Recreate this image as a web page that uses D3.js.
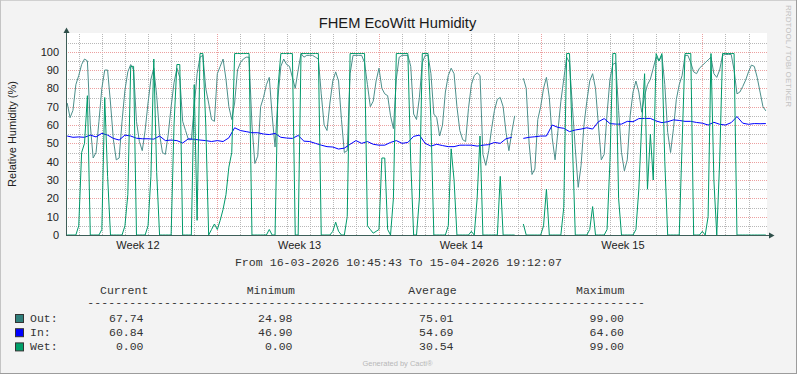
<!DOCTYPE html>
<html><head><meta charset="utf-8">
<script src="https://cdn.jsdelivr.net/npm/d3@7"></script>
<style>html,body{margin:0;padding:0;background:#f3f3f3;} svg{display:block;}</style>
</head><body>
<svg id="c" width="797" height="374"></svg>
<script>
// ---------- data ----------
const title = "FHEM EcoWitt Humidity";
const yLabel = "Relative Humidity (%)";
const graphStart = "2026-03-16T10:45:43Z";
const graphEnd = "2026-04-15T19:12:07Z";
const seriesStart = "2026-03-16T12:00:00Z";
const outWetStepHours = 3;
const inStepHours = 6;
const yTicks = [0,10,20,30,40,50,60,70,80,90,100];
const weekLabelTimes = ["2026-03-19T13:00:00Z","2026-03-26T13:00:00Z","2026-04-02T13:00:00Z","2026-04-09T13:00:00Z"];

const outValues = [
72,64,68,82,87,93,96,95,60,42,
45,62,80,90,90,72,52,41,42,62,
79,89,93,90,62,51,46,57,72,85,
91,76,55,45,44,55,70,83,91,86,
62,57,52,52,70,88,97,98,80,72,
63,62,88,92,96,85,70,63,72,90,
94,96,97,97,60,39,43,70,75,82,
86,65,48,75,92,96,93,92,86,80,
90,99,97,98,98,98,97,96,77,60,
57,72,84,89,84,63,45,46,88,98,
98,98,98,94,82,70,73,84,91,80,
77,76,65,58,85,97,98,98,98,92,
66,63,75,94,98,98,88,66,64,54,
60,78,87,91,88,70,57,52,51,69,
82,87,88.5,87,44,38,46,58,68,74,
75,70,56,46,56,65,null,null,85.5,80,
50,33,36,63,70,80,86,75,53,41,
57,73,85,97,94,70,47,26,38,60,
73,84,88,80,60,41,44,66,85,93,
94,68,45,35,41,65,78,84,78,67,
76,82,85,91,97,95,98,82,56,45,
58,74,82,87,98,98,94,89,88,91,
92.5,94,95.5,97,88,86,90,98,98.5,98.5,
98.5,90,77,78,81,84.5,89,92.7,92,86,
78,70,67.7];

const wetValues = [
0,0,0,0,5,45,50,76,0,0,
0,0,3,75,32,0,0,0,0,0,
5,22,92,92,0,0,0,0,5,32,
96,34,0,0,0,0,0,60,93,93,
0,0,0,0,82,8,99,99,60,0,
3,6,3,8,14,22,37,45,99,99,
99,99,99,99,0,0,0,0,0,0,
3,0,0,80,99,99,99,99,99,0,
0,99,99,99,99,99,99,99,0,0,
0,0,2,7,2,0,0,10,99,99,
99,99,99,99,5,3,1,2,3,42,
42,3,0,20,99,99,99,99,99,40,
0,0,20,99,99,99,62,0,0,0,
0,0,5,47,30,0,0,0,0,0,
2,0,20,54,0,0,0,0,0,0,
32,0,0,0,0,0,null,null,6,0,
0,0,0,0,0,5,25,0,0,0,
0,0,15,99,99,50,0,0,0,0,
0,3,15.5,0,0,0,0,3,40,99,
99,20,0,0,0,0,0,3,25,60,
88,25,55,30,99,95,99,40,0,0,
0,0,0,50,99,99,99,0,0,0,
2,0,10,99,30,0,40,99,99,99,
99,99,0,0,0,0,0,0,0,0,
0,0,0];

const inValues = [
54,53.3,53.5,53.3,54.5,53.5,55.5,54.5,52.7,51.8,
54.5,54,52.8,52.5,52.5,52.3,54,51.5,51.8,51.5,
50.2,52.5,52.2,51.8,51.5,51,51.5,51,53,58.5,
57,56.4,55.8,55.8,55.1,54.8,55.4,53.3,52.9,52.7,
54.3,51.2,51,50,49,48.2,48,46.9,47.4,49.5,
51.5,50,51,49.5,49,49,50.5,51.5,50,50.5,
53.8,54.5,50,48.5,49.5,48.8,48.2,48.2,49,49,
49,48.5,49,49.3,50.5,50,52.5,53.3,null,52.7,
53.3,53.6,54,54,60,58.7,58.2,56.4,57.3,57.8,
58.5,57.8,61.8,63.5,60.8,60.5,60.5,62,61.8,63.5,
63.6,63.6,62.2,61.3,61.8,62.8,62.5,62,62,61.4,
61,60,61.5,60.4,60,61.3,64.6,61,60.4,60.8,
60.7,60.8];

const seriesNames = ["Out:", "In:", "Wet:"];
const statHeaders = ["Current", "Minimum", "Average", "Maximum"];
const statValues = [
  ["67.74", "24.98", "75.01", "99.00"],
  ["60.84", "46.90", "54.69", "64.60"],
  ["0.00", "0.00", "30.54", "99.00"]
];
const periodText = "From 16-03-2026 10:45:43 To 15-04-2026 19:12:07";
const footerText = "Generated by Cacti®";
const watermark = "RRDTOOL / TOBI OETIKER";

// ---------- styles ----------
const colOut = "#4c8f8b", colIn = "#0000ff", colWet = "#00996a";
const boxColors = ["#2f7f7b", "#0000ff", "#00a06a"];
const sans = "'Liberation Sans', Arial, sans-serif";
const mono = "'Liberation Mono', 'Courier New', monospace";
const minorCol = "#b8b8b8", majorCol = "#eca0a0";

const svg = d3.select("#c");
const W = 797, H = 374;
const L = 66, R = 767, T = 34, B = 235;

// dotted-line patterns (1px on, 1px off)
const defs = svg.append("defs");
[["hMin", minorCol, true], ["hMaj", majorCol, true], ["vMin", minorCol, false], ["vMaj", majorCol, false]].forEach(([id, col, horiz]) => {
  const p = defs.append("pattern").attr("id", id).attr("patternUnits","userSpaceOnUse")
    .attr("x",0).attr("y",0).attr("width",2).attr("height",2);
  p.append("rect").attr("x",0).attr("y",0).attr("width",horiz ? 1 : 2).attr("height",horiz ? 2 : 1).attr("fill",col);
});

svg.append("rect").attr("x",0).attr("y",0).attr("width",W).attr("height",H).attr("fill","#f3f3f3");
// frame
svg.append("line").attr("x1",0).attr("x2",W).attr("y1",0.5).attr("y2",0.5).attr("stroke","#d0d0d0");
svg.append("line").attr("x1",0.5).attr("x2",0.5).attr("y1",0).attr("y2",H).attr("stroke","#c4c4c4");
svg.append("line").attr("x1",W-0.5).attr("x2",W-0.5).attr("y1",0).attr("y2",H).attr("stroke","#9c9c9c");
svg.append("line").attr("x1",0).attr("x2",W).attr("y1",H-0.5).attr("y2",H-0.5).attr("stroke","#9c9c9c");

const x = d3.scaleUtc().domain([new Date(graphStart), new Date(graphEnd)]).range([L, R]);
const y = d3.scaleLinear().domain([0, 100]).range([B, 51.7]);

svg.append("rect").attr("x",L+1).attr("y",T-1).attr("width",R-L-1).attr("height",B-T+1).attr("fill","#ffffff");

const grid = svg.append("g").attr("shape-rendering","crispEdges");
const hLine = (v, pat) => grid.append("rect").attr("x",L+1).attr("y",Math.round(y(v))).attr("width",R-L-1).attr("height",1).attr("fill",`url(#${pat})`);
const vLine = (d, pat) => grid.append("rect").attr("x",Math.round(x(d))).attr("y",T).attr("width",1).attr("height",B-T).attr("fill",`url(#${pat})`);
const dStart = new Date(graphStart), dEnd = new Date(graphEnd);
d3.range(5, 106, 10).forEach(v => hLine(v, "hMin"));
d3.utcDay.range(dStart, dEnd).filter(d => d.getUTCDay() !== 1).forEach(d => vLine(d, "vMin"));
yTicks.filter(v => v > 0).forEach(v => hLine(v, "hMaj"));
d3.utcMonday.range(dStart, dEnd).forEach(d => vLine(d, "vMaj"));

// series
const s0 = new Date(seriesStart).getTime();
const toPts = (vals, stepH) => vals.map((v, i) => ({t: new Date(s0 + i * stepH * 3600e3), v}));
const line = d3.line().defined(d => d.v != null).x(d => x(d.t)).y(d => y(d.v));

svg.append("clipPath").attr("id","clip").append("rect").attr("x",L).attr("y",T-3).attr("width",R-L).attr("height",B-T+3);
const plot = svg.append("g").attr("clip-path","url(#clip)");
plot.append("path").datum(toPts(outValues, outWetStepHours)).attr("d", line)
  .attr("fill","none").attr("stroke",colOut).attr("stroke-width",1);
plot.append("path").datum(toPts(inValues, inStepHours)).attr("d", line)
  .attr("fill","none").attr("stroke",colIn).attr("stroke-width",1);
plot.append("path").datum(toPts(wetValues, outWetStepHours)).attr("d", line)
  .attr("fill","none").attr("stroke",colWet).attr("stroke-width",1);

// axes lines + arrows
const axCol = "#3d5e58";
svg.append("line").attr("x1",L+0.5).attr("x2",L+0.5).attr("y1",B+1).attr("y2",30).attr("stroke",axCol);
svg.append("line").attr("x1",L).attr("x2",771).attr("y1",B+0.5).attr("y2",B+0.5).attr("stroke",axCol);
svg.append("path").attr("d",`M${L+0.5},27.5 L${L+3.5},33 L${L-2.5},33 Z`).attr("fill","#2f4f4a");
svg.append("path").attr("d",`M774.5,${B+0.5} L769,${B-2.5} L769,${B+3.5} Z`).attr("fill","#2f4f4a");

// y axis labels
const yAxis = d3.axisLeft(y).tickValues(yTicks).tickSize(0).tickPadding(7).tickFormat(d3.format("d"));
const gy = svg.append("g").attr("transform",`translate(${L},0)`).call(yAxis);
gy.select(".domain").remove();
gy.selectAll("text").attr("font-family",sans).attr("font-size","11px").attr("fill","#222");

// x axis labels
const xAxis = d3.axisBottom(x).tickValues(weekLabelTimes.map(s => new Date(s))).tickSize(0).tickPadding(6.2)
  .tickFormat(d3.utcFormat("Week %V"));
const gx = svg.append("g").attr("transform",`translate(0,${B})`).call(xAxis);
gx.select(".domain").remove();
gx.selectAll("text").attr("font-family",sans).attr("font-size","11px").attr("fill","#222");

// title
svg.append("text").attr("x",397.5).attr("y",28).attr("text-anchor","middle")
  .attr("font-family",sans).attr("font-size","14.7px").attr("fill","#1a1a1a").text(title);
// y label
svg.append("text").attr("transform","translate(15.5,134) rotate(-90)").attr("text-anchor","middle")
  .attr("font-family",sans).attr("font-size","11px").attr("fill","#222").text(yLabel);
// watermark
svg.append("text").attr("transform","translate(785.5,5) rotate(90)").attr("text-anchor","start")
  .attr("font-family",sans).attr("font-size","8px").attr("fill","#c2c2c2")
  .attr("textLength",102).attr("lengthAdjust","spacing").text(watermark);

// period
svg.append("text").attr("x",398.4).attr("y",266).attr("text-anchor","middle")
  .attr("font-family",mono).attr("font-size","11.6px").attr("fill","#333").text(periodText);

// legend header
const headerX = [100, 246.7, 408.3, 576];
const valueRight = [143.5, 292.5, 453.5, 624];
svg.selectAll("text.hdr").data(statHeaders).enter().append("text").attr("class","hdr")
  .attr("x",(d,i)=>headerX[i]).attr("y",294).attr("font-family",mono).attr("font-size","11.5px").attr("fill","#333").text(d=>d);
svg.append("text").attr("x",87.3).attr("y",306).attr("font-family",mono).attr("font-size","11.5px").attr("fill","#333")
  .attr("textLength",557.7).attr("lengthAdjust","spacing").text("-".repeat(80));

const rowY = [322, 336.2, 350.4];
seriesNames.forEach((name, r) => {
  svg.append("rect").attr("x",15.5).attr("y",rowY[r]-7.5).attr("width",8).attr("height",8)
    .attr("fill",boxColors[r]).attr("stroke","#333").attr("stroke-width",1);
  svg.append("text").attr("x",30).attr("y",rowY[r]).attr("font-family",mono).attr("font-size","11.5px").attr("fill","#333").text(name);
  statValues[r].forEach((v, c) => {
    svg.append("text").attr("x",valueRight[c]).attr("y",rowY[r]).attr("text-anchor","end")
      .attr("font-family",mono).attr("font-size","11.5px").attr("fill","#333").text(v);
  });
});

svg.append("text").attr("x",397.5).attr("y",366).attr("text-anchor","middle")
  .attr("font-family",sans).attr("font-size","7.5px").attr("fill","#b8b8b8").text(footerText);
</script>
</body></html>
